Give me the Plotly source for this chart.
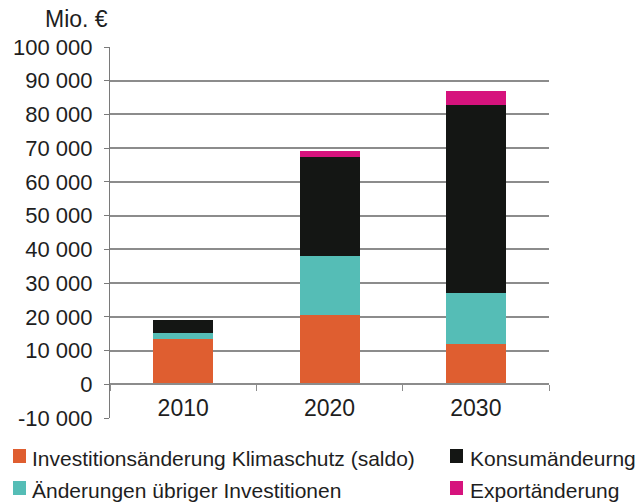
import plotly.graph_objects as go

categories = ["2010", "2020", "2030"]
series_names = [
    "Investitionsänderung Klimaschutz (saldo)",
    "Änderungen übriger Investitionen",
    "Konsumändeurng",
    "Exportänderung",
]
investition_klima = [13500, 20400, 11900]
investition_uebrige = [1800, 17600, 15300]
konsum = [3700, 29400, 55500]
export = [0, 1800, 4200]
series_values = [investition_klima, investition_uebrige, konsum, export]
colors = ["#DF5E30", "#55BDB6", "#141614", "#D6137D"]

y_ticks = list(range(-10000, 100001, 10000))
y_ticklabels = ["{:,}".format(v).replace(",", " ") for v in y_ticks]
grid_ticks = list(range(10000, 90001, 10000))

W, H = 637, 502
L, R, T, B = 110, 88, 47, 84
PW, PH = W - L - R, H - T - B


def px_x(px):
    return (px - L) / PW


def px_y(py):
    return (H - B - py) / PH


FONT = "Liberation Sans, Arial, sans-serif"
TXT = "#1e1e1e"
GRID = "#8c8c8c"

fig = go.Figure()
for name, vals, col in zip(series_names, series_values, colors):
    fig.add_trace(go.Bar(
        x=categories, y=vals, name=name, marker_color=col,
        marker_line_width=0, width=0.41, showlegend=False,
    ))

# invisible trace for grid axis
fig.add_trace(go.Scatter(x=categories, y=[None] * 3, yaxis="y2",
                         showlegend=False, hoverinfo="skip"))

fig.update_layout(
    width=W, height=H,
    margin=dict(l=L, r=R, t=T, b=B),
    barmode="stack",
    plot_bgcolor="white", paper_bgcolor="white",
    font=dict(family=FONT, color=TXT, size=22),
    xaxis=dict(
        type="category", anchor="free", position=10000 / 110000,
        showline=True, linecolor=GRID, linewidth=1.5,
        ticks="outside", ticklen=6, tickcolor=GRID, tickwidth=1.2,
        tickson="boundaries", showgrid=False,
        tickfont=dict(size=23, color=TXT), ticklabelstandoff=3,
    ),
    yaxis=dict(
        range=[-10000, 100000], tickmode="array", tickvals=y_ticks,
        ticktext=y_ticklabels, showgrid=False, zeroline=False,
        showline=True, linecolor="#7a7a7a", linewidth=1.2,
        ticks="outside", ticklen=5, tickcolor="#7a7a7a", tickwidth=1.2,
        tickfont=dict(size=22, color=TXT), ticklabelstandoff=7,
    ),
    yaxis2=dict(
        range=[-10000, 100000], overlaying="y", tickmode="array",
        tickvals=grid_ticks, showgrid=True, gridcolor=GRID, gridwidth=1.5,
        showticklabels=False, zeroline=False, showline=False,
    ),
)

fig.add_annotation(
    text="Mio. €", xref="paper", yref="paper", x=px_x(110), y=px_y(19),
    xanchor="right", yanchor="middle", showarrow=False,
    font=dict(size=23, color=TXT),
)

# manual legend (two columns, two rows)
legend_pos = [(13, 456, 30, 458), (13, 488, 30, 490),
              (450, 456, 468, 458), (450, 488, 468, 490)]
for (sx, sy, tx, ty), name, col in zip(legend_pos, series_names, colors):
    fig.add_shape(type="rect", xref="paper", yref="paper",
                  x0=px_x(sx), x1=px_x(sx + 13), y0=px_y(sy - 7), y1=px_y(sy + 7),
                  fillcolor=col, line_width=0)
    fig.add_annotation(text=name, xref="paper", yref="paper",
                       x=px_x(tx), y=px_y(ty), xanchor="left", yanchor="middle",
                       showarrow=False, font=dict(size=21, color=TXT))

fig.write_html("out.html", config={"displayModeBar": False},
               post_script="document.body.style.margin='0';")
